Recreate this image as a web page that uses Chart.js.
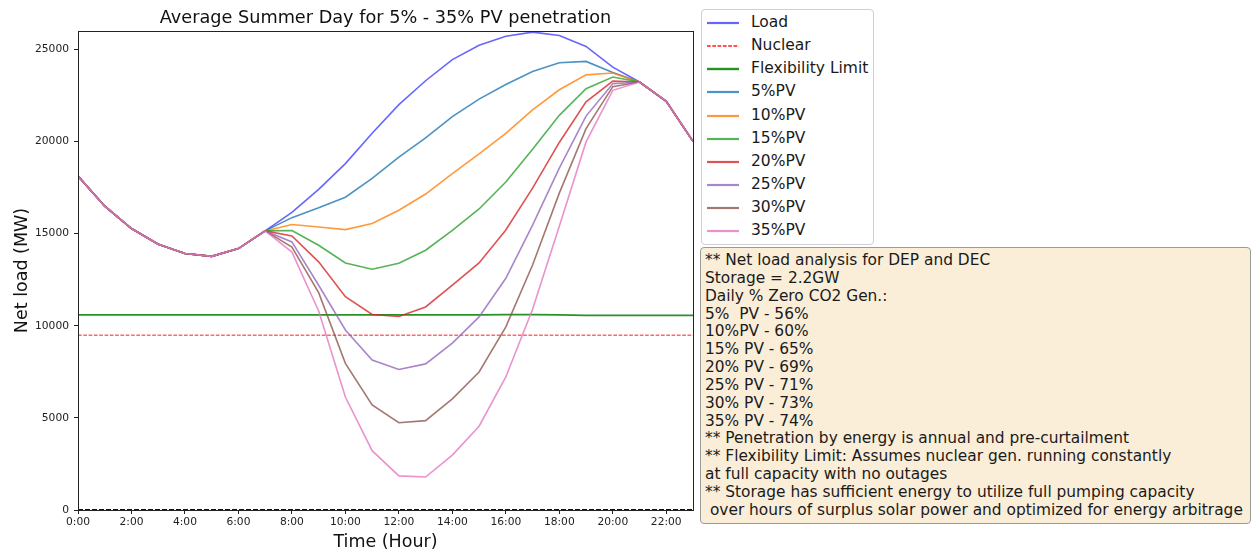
<!DOCTYPE html>
<html>
<head>
<meta charset="utf-8">
<script src="https://cdn.jsdelivr.net/npm/chart.js@4.4.1/dist/chart.umd.min.js"></script>
<style>
  body { margin: 0; background: #fff; font-family: "DejaVu Sans", sans-serif; }
  .page { position: relative; width: 1255px; height: 554px; }
  #netLoadChart { position: absolute; left: 0; top: 0; }
  .legend {
    position: absolute; left: 701px; top: 9px; width: 173px; height: 236px;
    border: 1px solid #d0d0d0; border-radius: 4px; background: #fff;
    box-sizing: border-box; padding-top: 1px;
  }
  .legend-row { position: relative; height: 23.15px; font-size: 15.5px; color: #1a1a1a; }
  .legend-row svg { position: absolute; left: 4px; top: 0; }
  .legend-row span { position: absolute; left: 49px; top: 1px; line-height: 20px; white-space: nowrap; }
  .notes {
    position: absolute; left: 700px; top: 247px; width: 551px; height: 277px;
    box-sizing: border-box; border: 1.5px solid #9a9a9a; border-radius: 4px;
    background: rgb(250, 238, 217); padding: 4px 0 0 4px;
    font-size: 15.4px; line-height: 17.85px; color: #1a1a1a; white-space: pre;
  }
</style>
</head>
<body>
<div class="page">
  <canvas id="netLoadChart" width="700" height="554"></canvas>
  <div class="legend" id="legend"></div>
  <div class="notes" id="notes"></div>
</div>
<script>
// hours of the day (x axis)
const hours = [0, 1, 2, 3, 4, 5, 6, 7, 8, 9, 10, 11, 12, 13, 14, 15, 16, 17, 18, 19, 20, 21, 22, 23];

// net load series in MW
const load   = [18130, 16490, 15280, 14430, 13920, 13770, 14190, 15150, 16150, 17400, 18800, 20450, 22000, 23300, 24450, 25230, 25720, 25940, 25760, 25160, 24040, 23230, 22180, 20010];
const pv5    = [18130, 16490, 15280, 14430, 13920, 13770, 14190, 15150, 15870, 16400, 16980, 18000, 19150, 20200, 21350, 22300, 23100, 23800, 24280, 24350, 23750, 23230, 22180, 20010];
const pv10   = [18130, 16490, 15280, 14430, 13920, 13770, 14190, 15150, 15500, 15360, 15220, 15550, 16270, 17150, 18260, 19330, 20440, 21720, 22810, 23620, 23720, 23230, 22180, 20010];
const pv15   = [18130, 16490, 15280, 14430, 13920, 13770, 14190, 15150, 15170, 14370, 13410, 13070, 13390, 14100, 15180, 16340, 17800, 19580, 21420, 22870, 23500, 23230, 22180, 20010];
const pv20   = [18130, 16490, 15280, 14430, 13920, 13770, 14190, 15150, 14870, 13470, 11580, 10610, 10500, 11020, 12200, 13410, 15200, 17470, 19950, 22160, 23280, 23230, 22180, 20010];
const pv25   = [18130, 16490, 15280, 14430, 13920, 13770, 14190, 15150, 14550, 12200, 9770, 8140, 7630, 7930, 9060, 10480, 12580, 15460, 18560, 21380, 23140, 23230, 22180, 20010];
const pv30   = [18130, 16490, 15280, 14430, 13920, 13770, 14190, 15150, 14270, 11800, 7960, 5700, 4740, 4850, 6030, 7490, 9940, 13300, 17200, 20700, 22980, 23230, 22180, 20010];
const pv35   = [18130, 16490, 15280, 14430, 13920, 13770, 14190, 15150, 14000, 10800, 6130, 3220, 1850, 1790, 2980, 4550, 7220, 10900, 15400, 19980, 22780, 23230, 22180, 20010];
const nuclear     = [9490, 9490, 9490, 9490, 9490, 9490, 9490, 9490, 9490, 9490, 9490, 9490, 9490, 9490, 9490, 9490, 9490, 9490, 9490, 9490, 9490, 9490, 9490, 9490];
const flexLimit   = [10590, 10590, 10590, 10590, 10590, 10590, 10590, 10590, 10590, 10590, 10590, 10590, 10590, 10590, 10590, 10590, 10600, 10600, 10590, 10560, 10560, 10560, 10560, 10560];
const zeroLine    = [0, 0, 0, 0, 0, 0, 0, 0, 0, 0, 0, 0, 0, 0, 0, 0, 0, 0, 0, 0, 0, 0, 0, 0];

const yTicks = [0, 5000, 10000, 15000, 20000, 25000];

const noteLines = [
  "** Net load analysis for DEP and DEC",
  "Storage = 2.2GW",
  "Daily % Zero CO2 Gen.:",
  "5%  PV - 56%",
  "10%PV - 60%",
  "15% PV - 65%",
  "20% PV - 69%",
  "25% PV - 71%",
  "30% PV - 73%",
  "35% PV - 74%",
  "** Penetration by energy is annual and pre-curtailment",
  "** Flexibility Limit: Assumes nuclear gen. running constantly",
  "at full capacity with no outages",
  "** Storage has sufficient energy to utilize full pumping capacity",
  " over hours of surplus solar power and optimized for energy arbitrage"
];

const toPoints = arr => arr.map((v, i) => ({ x: hours[i], y: v }));

const series = [
  { label: 'Load', data: load, color: 'rgba(0, 0, 255, 0.6)', width: 1.6 },
  { label: 'Nuclear', data: nuclear, color: 'rgba(255, 0, 0, 0.9)', width: 1, dash: [3.7, 1.6] },
  { label: 'Flexibility Limit', data: flexLimit, color: 'rgba(0, 128, 0, 0.85)', width: 1.8 },
  { label: '5%PV', data: pv5, color: 'rgba(31, 119, 180, 0.8)', width: 1.6 },
  { label: '10%PV', data: pv10, color: 'rgba(255, 127, 14, 0.8)', width: 1.6 },
  { label: '15%PV', data: pv15, color: 'rgba(44, 160, 44, 0.8)', width: 1.6 },
  { label: '20%PV', data: pv20, color: 'rgba(214, 39, 40, 0.8)', width: 1.6 },
  { label: '25%PV', data: pv25, color: 'rgba(148, 103, 189, 0.8)', width: 1.6 },
  { label: '30%PV', data: pv30, color: 'rgba(140, 86, 75, 0.8)', width: 1.6 },
  { label: '35%PV', data: pv35, color: 'rgba(227, 119, 194, 0.8)', width: 1.6 }
];

// later series are drawn on top (lower order = drawn later in Chart.js)
const datasets = series.map((s, i) => ({
  label: s.label,
  data: toPoints(s.data),
  borderColor: s.color,
  borderWidth: s.width,
  borderDash: s.dash || [],
  pointRadius: 0,
  tension: 0,
  fill: false,
  order: -i
}));
// black dashed zero line, not in legend
datasets.push({
  label: '',
  data: toPoints(zeroLine),
  borderColor: '#111',
  borderWidth: 2,
  borderDash: [5, 2],
  pointRadius: 0,
  fill: false,
  order: -20
});

// title centred over the axes, like matplotlib does
const axesTitle = {
  id: 'axesTitle',
  afterDraw(chart) {
    const { ctx, chartArea } = chart;
    ctx.save();
    ctx.font = '17.7px "DejaVu Sans"';
    ctx.fillStyle = '#111';
    ctx.textAlign = 'center';
    ctx.textBaseline = 'middle';
    ctx.fillText('Average Summer Day for 5% - 35% PV penetration', (chartArea.left + chartArea.right) / 2, 18);
    ctx.restore();
  }
};

// box around plot area
const frame = {
  id: 'frame',
  afterDraw(chart) {
    const { ctx, chartArea: a } = chart;
    ctx.save();
    ctx.strokeStyle = '#222';
    ctx.lineWidth = 1;
    ctx.strokeRect(Math.round(a.left) + 0.5, Math.round(a.top) + 0.5, Math.round(a.right - a.left), Math.round(a.bottom - a.top));
    ctx.restore();
  }
};

const tickFont = { family: 'DejaVu Sans', size: 10.7 };

const chart = new Chart(document.getElementById('netLoadChart').getContext('2d'), {
  type: 'line',
  data: { datasets },
  options: {
    responsive: false,
    animation: false,
    layout: { padding: { top: 31, right: 7, left: 0, bottom: 0 } },
    plugins: {
      legend: { display: false },
      title: { display: false },
      tooltip: { enabled: false }
    },
    scales: {
      x: {
        type: 'linear',
        min: 0,
        max: 23,
        afterFit: scale => { scale.height = 44; },
        grid: { display: true, drawOnChartArea: false, tickLength: 4, color: '#222' },
        border: { display: false },
        ticks: {
          stepSize: 2,
          includeBounds: false,
          maxRotation: 0,
          autoSkip: false,
          padding: 2,
          color: '#222',
          font: tickFont,
          callback: v => v + ':00'
        },
        title: {
          display: true,
          text: 'Time (Hour)',
          color: '#111',
          font: { family: 'DejaVu Sans', size: 17.5 },
          padding: { top: 0, bottom: 1 }
        }
      },
      y: {
        min: 0,
        max: 26000,
        afterFit: scale => { scale.width = 78; },
        afterBuildTicks: scale => { scale.ticks = yTicks.map(v => ({ value: v })); },
        grid: { display: true, drawOnChartArea: false, tickLength: 4, color: '#222' },
        border: { display: false },
        ticks: {
          padding: 5,
          color: '#222',
          font: tickFont,
          callback: v => String(v)
        },
        title: {
          display: true,
          text: 'Net load (MW)',
          color: '#111',
          font: { family: 'DejaVu Sans', size: 17.5 },
          padding: { top: 12, bottom: 0 }
        }
      }
    }
  },
  plugins: [axesTitle, frame]
});

// HTML legend built from the labelled series
const legendEl = document.getElementById('legend');
series.forEach(s => {
  const row = document.createElement('div');
  row.className = 'legend-row';
  const dash = s.dash ? `stroke-dasharray="${s.dash.join(' ')}"` : '';
  row.innerHTML = `<svg width="34" height="24"><line x1="1" y1="12" x2="33" y2="12" stroke="${s.color}" stroke-width="${s.width + 0.6}" ${dash}/></svg><span>${s.label}</span>`;
  legendEl.appendChild(row);
});

document.getElementById('notes').textContent = noteLines.join('\n');
</script>
</body>
</html>
